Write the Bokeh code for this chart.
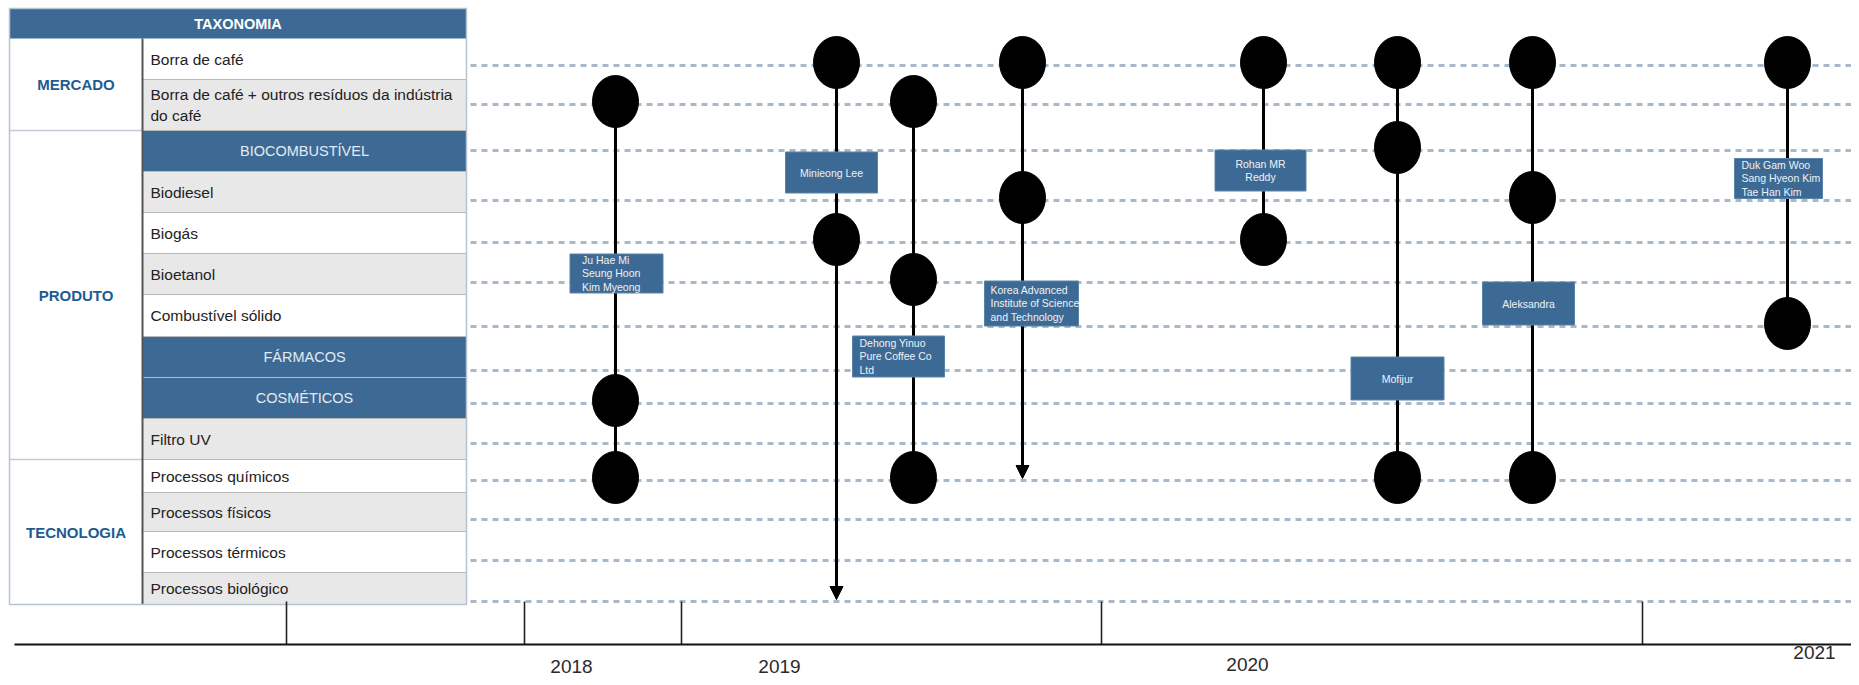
from bokeh.plotting import figure
from bokeh.models import Range1d, Arrow, NormalHead, ColumnDataSource
from bokeh.core.properties import value
from bokeh.embed import file_html
from bokeh.resources import INLINE

# ---------------- data ----------------
header = "TAXONOMIA"
groups = ["MERCADO", "PRODUTO", "TECNOLOGIA"]
group_span = [(0, 2), (2, 10), (10, 14)]          # row index ranges of each group
row_labels = ["Borra de café",
              "Borra de café + outros resíduos da indústria\ndo café",
              "BIOCOMBUSTÍVEL", "Biodiesel", "Biogás", "Bioetanol",
              "Combustível sólido", "FÁRMACOS", "COSMÉTICOS", "Filtro UV",
              "Processos químicos", "Processos físicos", "Processos térmicos",
              "Processos biológico"]
row_kind = ["white", "gray", "section", "gray", "white", "gray", "white",
            "section", "section", "gray", "white", "gray", "white", "gray"]

authors = ["Ju Hae Mi\nSeung Hoon\nKim Myeong", "Minieong Lee",
           "Dehong Yinuo\nPure Coffee Co\nLtd",
           "Korea Advanced\nInstitute of Science\nand Technology",
           "Rohan MR\nReddy", "Mofijur", "Aleksandra",
           "Duk Gam Woo\nSang Hyeon Kim\nTae Han Kim"]
event_pos = [615, 836, 913, 1022, 1263, 1397, 1532, 1787]   # position on the timeline
event_rows = [[1, 8, 10], [0, 4], [1, 5, 10], [0, 3], [0, 4], [0, 2, 10], [0, 3, 10], [0, 6]]
arrow_row = [None, 13, None, 10, None, None, None, None]

years = ["2018", "2019", "2020", "2021"]
year_pos = [571, 779, 1247, 1814]
tick_pos = [286, 524, 681, 1101, 1642]

# ---------------- layout ----------------
W, H = 1851, 677
TBL_L, TBL_M, TBL_R = 9, 142, 466
HEAD_T, HEAD_B = 8, 38
row_h = [41, 51, 41, 41, 41, 41, 42, 41, 41, 41, 33, 39, 41, 32]
lane_y = [65, 104, 150, 200, 242, 282, 326, 370, 403, 443, 480, 519, 560, 601]
box_y = [273, 172, 356, 303, 170, 378, 303, 178]
box_dx = [1, -5, -15, 9, -3, 0, -4, -9]
box_w = [93, 92, 92, 94, 91, 93, 92, 88]
box_h = [39, 41, 41, 45, 41, 43, 43, 40]
box_align = ["left", "center", "left", "left", "center", "center", "center", "left"]
box_pad = [12, 0, 7, 6, 0, 0, 0, 7]
year_y = [666, 666, 664, 652]
AXIS_Y = 644

BLUE = "#3d6a94"
GRAY = "#e8e8e8"
FONT = value("Liberation Sans")

p = figure(width=W, height=H, x_range=Range1d(0, W), y_range=Range1d(H, 0),
           output_backend="svg", toolbar_location=None, min_border=0,
           x_axis_location=None, y_axis_location=None)
p.grid.visible = False
p.outline_line_color = None
p.background_fill_color = "white"
p.border_fill_color = "white"

# row boundaries
tops, bots = [], []
y = HEAD_B
for h in row_h:
    tops.append(y)
    y += h
    bots.append(y)
TBL_B = bots[-1]

# ---------------- table ----------------
fills = [BLUE if k == "section" else (GRAY if k == "gray" else "white") for k in row_kind]
p.quad(left=[TBL_M] * len(row_h), right=[TBL_R] * len(row_h), top=tops, bottom=bots,
       fill_color=fills, line_color=None)
p.quad(left=[TBL_L], right=[TBL_R], top=[HEAD_T], bottom=[HEAD_B], fill_color=BLUE, line_color=None)
# separators
sep_y = [b for b in bots[:-1]]
p.segment(x0=[TBL_M] * len(sep_y), x1=[TBL_R] * len(sep_y), y0=sep_y, y1=sep_y,
          line_color="#b9b9b9", line_width=1.2)
g_sep = [bots[g[1] - 1] for g in group_span[:-1]]
p.segment(x0=[TBL_L] * len(g_sep), x1=[TBL_M] * len(g_sep), y0=g_sep, y1=g_sep,
          line_color="#c3ccd6", line_width=1.5)
p.segment(x0=[TBL_M], x1=[TBL_M], y0=[HEAD_B], y1=[TBL_B], line_color="#555555", line_width=2)
p.quad(left=[TBL_L], right=[TBL_R], top=[HEAD_T], bottom=[TBL_B], fill_color=None,
       line_color="#b6c3d0", line_width=1.5)

p.text(x=[(TBL_L + TBL_R) / 2], y=[(HEAD_T + HEAD_B) / 2], text=[header], text_align="center",
       text_baseline="middle", text_font=FONT, text_font_size="14.5px", text_font_style="bold",
       text_color="white")
gx = [(TBL_L + TBL_M) / 2] * 3
gy = [(tops[a] + bots[b - 1]) / 2 for a, b in group_span]
p.text(x=gx, y=gy, text=groups, text_align="center", text_baseline="middle", text_font=FONT,
       text_font_size="15px", text_font_style="bold", text_color="#1e5b91")

norm = [i for i, k in enumerate(row_kind) if k != "section"]
sect = [i for i, k in enumerate(row_kind) if k == "section"]
p.text(x=[TBL_M + 8] * len(norm), y=[(tops[i] + bots[i]) / 2 for i in norm],
       text=[row_labels[i] for i in norm], text_align="left", text_baseline="middle",
       text_font=FONT, text_font_size="15.5px", text_color="#222222", text_line_height=1.25)
p.text(x=[(TBL_M + TBL_R) / 2] * len(sect), y=[(tops[i] + bots[i]) / 2 for i in sect],
       text=[row_labels[i] for i in sect], text_align="center", text_baseline="middle",
       text_font=FONT, text_font_size="14.5px", text_color="#e3eaf2")

# ---------------- lanes ----------------
p.segment(x0=[470] * len(lane_y), x1=[W] * len(lane_y), y0=lane_y, y1=lane_y,
          line_color="#a8b9ca", line_width=3, line_dash="6 5")

# ---------------- events ----------------
seg_x, seg_y0, seg_y1 = [], [], []
cx, cy = [], []
for pos, rows, arr in zip(event_pos, event_rows, arrow_row):
    ys = [lane_y[r] - 3 for r in rows]
    for yy in ys:
        cx.append(pos)
        cy.append(yy)
    seg_x.append(pos)
    seg_y0.append(min(ys))
    if arr is None:
        seg_y1.append(max(ys))
    else:
        tip = lane_y[arr] - 2
        seg_y1.append(tip - 8)
        p.add_layout(Arrow(x_start=pos, y_start=tip - 6, x_end=pos, y_end=tip,
                           line_width=3, line_color="black",
                           end=NormalHead(size=13, fill_color="black", line_color="black")))
p.segment(x0=seg_x, x1=seg_x, y0=seg_y0, y1=seg_y1, line_color="black", line_width=3)

bx = [pos + dx for pos, dx in zip(event_pos, box_dx)]
p.rect(x=bx, y=box_y, width=box_w, height=box_h, fill_color=BLUE, line_color="#5a83a8",
       line_width=1)
tx = [b - w / 2 + pad if al == "left" else b for b, w, pad, al in zip(bx, box_w, box_pad, box_align)]
src = ColumnDataSource(dict(x=tx, y=box_y, t=authors, a=box_align))
p.text(x="x", y="y", text="t", text_align="a", source=src, text_baseline="middle",
       text_font=FONT, text_font_size="10.5px", text_color="#eef2f6", text_line_height=1.15)

p.ellipse(x=cx, y=cy, width=46, height=52, fill_color="black", line_color="black")

# ---------------- timeline axis ----------------
p.segment(x0=tick_pos, x1=tick_pos, y0=[lane_y[-1]] * len(tick_pos), y1=[AXIS_Y] * len(tick_pos),
          line_color="#222222", line_width=1.6)
p.segment(x0=[14], x1=[W], y0=[AXIS_Y], y1=[AXIS_Y], line_color="#111111", line_width=2)
p.text(x=year_pos, y=year_y, text=years, text_align="center", text_baseline="middle",
       text_font=FONT, text_font_size="19px", text_color="#2a2a2a")

open("out.html", "w").write(file_html(p, INLINE))
